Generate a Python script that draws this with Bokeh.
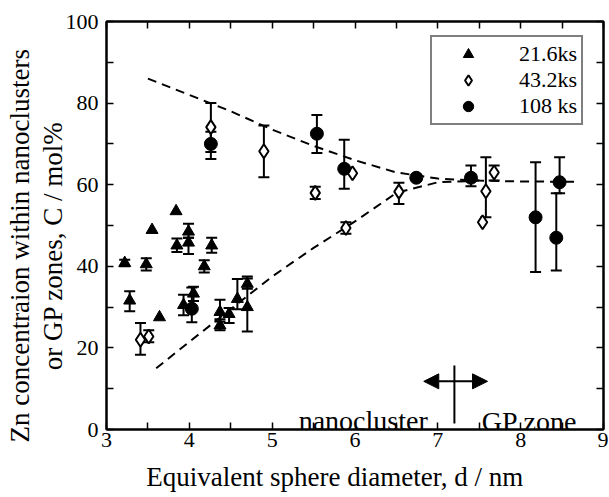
from bokeh.plotting import figure
from bokeh.models import (ColumnDataSource, Whisker, TeeHead, Legend, LegendItem,
                          LinearAxis, Label, Arrow, NormalHead, FixedTicker, Range1d,
                          CustomJSTickFormatter)
from bokeh.embed import file_html
from bokeh.resources import INLINE

FONT = "Liberation Serif"

# ---- data: 21.6 ks (triangles) ----
tri_x  = [3.22, 3.48, 3.55, 3.84, 3.85, 3.99, 3.99, 4.27, 4.18, 3.28, 3.64, 3.93, 4.05, 4.37, 4.37, 4.48, 4.58, 4.70, 4.70]
tri_y  = [40.8, 40.5, 48.9, 53.5, 45.1, 48.5, 45.8, 45.1, 40.0, 31.6, 27.5, 30.5, 33.3, 28.8, 25.5, 28.3, 32.0, 35.7, 30.0]
tri_lo = [40.0, 39.0, None, None, 43.5, 47.0, 43.0, 43.3, 38.5, 29.0, None, 28.0, 31.5, 26.5, 24.3, 26.1, 29.5, 34.5, 24.0]
tri_hi = [41.6, 42.0, None, None, 46.8, 50.4, 47.0, 47.0, 41.5, 33.9, None, 33.0, 35.0, 31.8, 27.0, 29.8, 36.9, 37.5, 37.0]

# ---- data: 43.2 ks (open diamonds) ----
dia_x  = [3.41, 3.51, 4.26, 4.90, 5.52, 5.97, 5.89, 6.53, 7.54, 7.58, 7.68]
dia_y  = [22.0, 22.8, 74.1, 68.2, 58.0, 62.8, 49.4, 58.3, 50.8, 58.4, 63.0]
dia_lo = [18.3, 21.4, 68.0, 61.8, 56.5, None, 48.0, 55.3, None, 52.0, 61.0]
dia_hi = [26.1, 24.3, 80.0, 74.5, 59.5, None, 50.8, 60.5, None, 66.7, 64.7]

# ---- data: 108 ks (filled circles) ----
cir_x  = [4.26, 4.03, 5.54, 5.87, 6.74, 7.40, 8.18, 8.47, 8.43]
cir_y  = [70.0, 29.6, 72.5, 63.9, 61.7, 61.7, 52.0, 60.6, 47.0]
cir_lo = [66.3, 26.3, 67.8, 59.0, 61.0, 59.6, 38.6, 57.9, 39.0]
cir_hi = [73.0, 34.8, 77.1, 71.0, 62.4, 64.7, 65.5, 66.7, 57.9]

# ---- guide curves (dashed) ----
upper_x = [3.5, 4.0, 4.5, 5.0, 5.5, 6.0, 6.5, 7.0, 7.5, 8.0, 8.65]
upper_y = [86.0, 82.0, 78.0, 73.5, 69.5, 66.0, 63.0, 61.5, 61.0, 60.8, 60.7]
lower_x = [3.6, 4.0, 4.5, 5.0, 5.5, 6.0, 6.5, 7.0, 7.5]
lower_y = [15.0, 21.5, 29.5, 37.5, 44.5, 51.0, 58.0, 60.6, 61.0]

x_ticks = [3, 4, 5, 6, 7, 8, 9]
x_minor = [3.5, 4.5, 5.5, 6.5, 7.5, 8.5]
y_ticks = [0, 20, 40, 60, 80, 100]
y_minor = [10, 30, 50, 70, 90]

x_title = "Equivalent sphere diameter, d / nm"
y_title = ["Zn concentraion within nanoclusters", "or GP zones, C / mol%"]

# boundary annotation
boundary_x = 7.2
boundary_y = (1.5, 15.7)
arrow_x = (6.83, 7.60)
arrow_y = 11.8

p = figure(frame_width=497, frame_height=408, x_range=Range1d(3, 9), y_range=Range1d(0, 100),
           output_backend="svg", toolbar_location=None,
           min_border_left=106, min_border_top=21, min_border_right=5, min_border_bottom=10)
p.xgrid.visible = False
p.ygrid.visible = False
p.outline_line_color = "black"
p.outline_line_width = 2
p.background_fill_color = "white"
p.border_fill_color = "white"

xb = p.below[0]
yl = p.left[0]


def style_axis(ax, ticks, minor, labels=True):
    ax.ticker = FixedTicker(ticks=ticks, minor_ticks=minor)
    ax.axis_line_width = 2
    ax.axis_line_color = "black"
    ax.major_tick_in = 7
    ax.major_tick_out = 0
    ax.minor_tick_in = 7
    ax.minor_tick_out = 0
    ax.major_tick_line_width = 1.5
    ax.minor_tick_line_width = 1.5
    ax.major_tick_line_color = "black"
    ax.minor_tick_line_color = "black"
    ax.major_label_text_font = FONT
    ax.major_label_text_font_size = "22px"
    ax.major_label_text_color = "black"
    if not labels:
        ax.formatter = CustomJSTickFormatter(code="return ''")
        ax.major_label_standoff = 0


style_axis(xb, x_ticks, x_minor)
style_axis(yl, y_ticks, y_minor)
xb.major_label_standoff = 3
yl.major_label_standoff = 8

top = LinearAxis()
style_axis(top, x_ticks, x_minor, labels=False)
p.add_layout(top, "above")
right = LinearAxis()
style_axis(right, y_ticks, y_minor, labels=False)
p.add_layout(right, "right")

PAD = "\u00a0" * 6   # trailing no-break spaces shift the centred titles as in the original
xb.axis_label = x_title + PAD
yl.axis_label = "\n".join(t + PAD for t in y_title)
for ax in (xb, yl):
    ax.axis_label_text_font = FONT
    ax.axis_label_text_font_size = "27px"
    ax.axis_label_text_font_style = "normal"
    ax.axis_label_text_color = "black"
    ax.axis_label_text_line_height = 1.1
xb.axis_label_standoff = 12
yl.axis_label_standoff = -5

# dashed guide curves
p.line(upper_x, upper_y, line_color="black", line_width=2, line_dash="9 6")
p.line(lower_x, lower_y, line_color="black", line_width=2, line_dash="9 6")


def whiskers(xs, lo, hi):
    sel = [i for i in range(len(xs)) if lo[i] is not None]
    src = ColumnDataSource(dict(x=[xs[i] for i in sel], lo=[lo[i] for i in sel], hi=[hi[i] for i in sel]))
    w = Whisker(source=src, base="x", lower="lo", upper="hi", dimension="height",
                line_color="black", line_width=2,
                upper_head=TeeHead(size=11, line_width=2, line_color="black"),
                lower_head=TeeHead(size=11, line_width=2, line_color="black"))
    p.add_layout(w)


whiskers(tri_x, tri_lo, tri_hi)
whiskers(dia_x, dia_lo, dia_hi)
whiskers(cir_x, cir_lo, cir_hi)

r_tri = p.scatter(tri_x, tri_y, marker="triangle", size=12, fill_color="black", line_color="black")
r_dia = p.scatter(dia_x, dia_y, marker="diamond", size=14, fill_color="white", line_color="black", line_width=2)
r_cir = p.scatter(cir_x, cir_y, marker="circle", size=13, fill_color="black", line_color="black")

legend = Legend(items=[LegendItem(label="21.6ks", renderers=[r_tri]),
                       LegendItem(label="43.2ks", renderers=[r_dia]),
                       LegendItem(label="108 ks", renderers=[r_cir])],
                location=(324, 304), padding=4, spacing=0, margin=0,
                glyph_width=64, glyph_height=26, label_height=26, label_standoff=19,
                label_text_font=FONT, label_text_font_size="22px", label_text_color="black",
                border_line_color="black", border_line_width=2, background_fill_alpha=1)
p.add_layout(legend, "center")

# boundary nanocluster / GP zone
p.segment(x0=[boundary_x], y0=[boundary_y[0]], x1=[boundary_x], y1=[boundary_y[1]], line_color="black", line_width=2)
p.add_layout(Arrow(x_start=arrow_x[0], y_start=arrow_y, x_end=arrow_x[1], y_end=arrow_y, line_width=2,
                   start=NormalHead(size=15, fill_color="black", line_color="black"),
                   end=NormalHead(size=15, fill_color="black", line_color="black")))
p.add_layout(Label(x=5.32, y=2.2, text="nanocluster", text_font=FONT, text_font_size="28px",
                   text_baseline="alphabetic", text_color="black"))
p.add_layout(Label(x=7.53, y=2.0, text="GP zone", text_font=FONT, text_font_size="28px",
                   text_baseline="alphabetic", text_color="black"))

open("out.html", "w").write(file_html(p, INLINE))
